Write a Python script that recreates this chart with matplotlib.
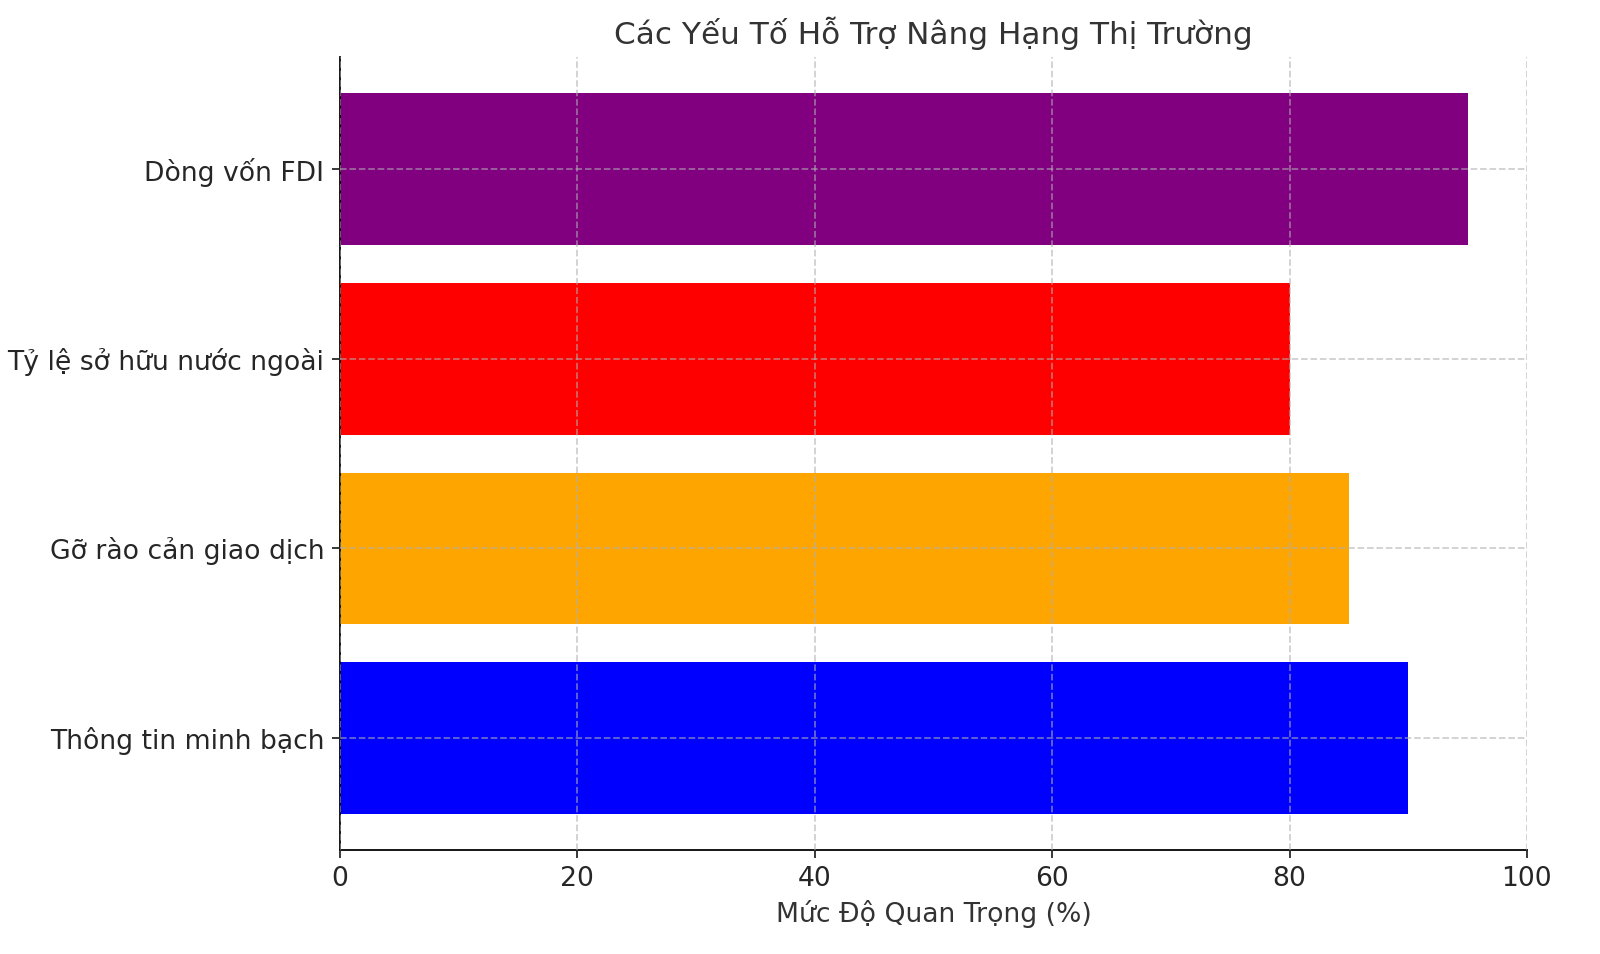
import matplotlib.pyplot as plt

# data
factors = ["Thông tin minh bạch", "Gỡ rào cản giao dịch", "Tỷ lệ sở hữu nước ngoài", "Dòng vốn FDI"]
importance = [90, 85, 80, 95]
bar_colors = ["blue", "orange", "red", "purple"]

plt.rcParams['font.family'] = ['DejaVu Sans']
plt.rcParams['text.color'] = '#262626'
plt.rcParams['xtick.color'] = '#262626'
plt.rcParams['ytick.color'] = '#262626'

fig = plt.figure(figsize=(10, 5.9625), dpi=160)
ax = fig.add_axes([0.2125, 0.109, 0.7418, 0.831])

ax.barh(factors, importance, color=bar_colors)
ax.set_xlim(0, 100)
ax.set_title("Các Yếu Tố Hỗ Trợ Nâng Hạng Thị Trường", fontsize=14, color='#333333')
ax.set_xlabel("Mức Độ Quan Trọng (%)", fontsize=12, color='#333333')
ax.tick_params(labelsize=12)
ax.grid(True, linestyle='--', alpha=0.6)
ax.set_axisbelow(False)
ax.spines['top'].set_visible(False)
ax.spines['right'].set_visible(False)

fig.savefig("out.png", dpi=160)
